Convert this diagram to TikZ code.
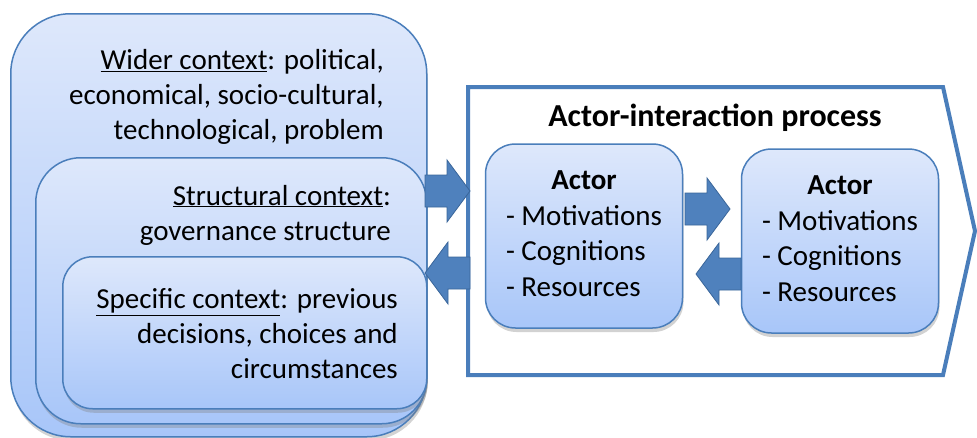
\documentclass[tikz,border=0pt]{standalone}
\usepackage{fontspec}
\setmainfont{Carlito}
\usetikzlibrary{shadows}
\definecolor{boxtop}{HTML}{DEE8FB}
\definecolor{boxbot}{HTML}{A8C6F9}
\definecolor{edgeblue}{HTML}{4A7EBB}
\definecolor{arrowblue}{HTML}{4F81BD}
\definecolor{arrowedge}{HTML}{3A669A}
\tikzset{
  shadebox/.style = {draw=edgeblue, line width=1.5pt, top color=boxtop, bottom color=boxbot,
    drop shadow={opacity=0.35, shadow xshift=1pt, shadow yshift=-4pt}, anchor=north west, inner sep=0pt},
  ctxtext/.style = {align=right, inner sep=0pt, anchor=east, font=\fontsize{29}{35}\selectfont},
  actorbox/.style = {shadebox, anchor=center, rounded corners=30pt, minimum width=197pt, minimum height=184pt,
    font=\fontsize{29}{35.5}\selectfont},
  blockarrow/.style = {fill=arrowblue, draw=arrowedge, line width=0.8pt, line join=miter},
  rblock/.pic = {\draw[blockarrow] (0,-16) -- (22,-16) -- (22,-31) -- (45,0) -- (22,31) -- (22,16) -- (0,16) -- cycle;},
  lblock/.pic = {\draw[blockarrow] (0,-16) -- (-22,-16) -- (-22,-31) -- (-45,0) -- (-22,31) -- (-22,16) -- (0,16) -- cycle;}
}
\begin{document}
\begin{tikzpicture}[x=1pt,y=-1pt]
\useasboundingbox (0,0) rectangle (977,437);

% context boxes
\node[shadebox, rounded corners=60pt, minimum width=416pt, minimum height=423pt] (wider) at (10,13) {};
\node[ctxtext] (widertext) at (384,97) {\underline{Wider context}: political,\\economical, socio-cultural,\\technological, problem};

\node[shadebox, rounded corners=45pt, minimum width=391pt, minimum height=266pt] (struct) at (35,157) {};
\node[ctxtext] (structtext) at (391,215) {\underline{Structural context}:\\governance structure};

\node[shadebox, rounded corners=30pt, minimum width=364pt, minimum height=152pt] (specific) at (62,256) {};
\node[ctxtext] (specifictext) at (398,334) {\underline{Specific context}: previous\\decisions, choices and\\circumstances};

% process chevron
\draw[edgeblue, line width=4pt, fill=white, line join=miter] (468,87) coordinate (procnw) -- (943,87) -- (975,231) coordinate (proctip) -- (943,375) -- (468,375) coordinate (procsw) -- cycle;
\node[font=\fontsize{32}{38}\selectfont\bfseries] (title) at (715,118) {Actor-interaction process};

\node[actorbox] (actora) at (584,236) {\begin{tabular}{@{}l@{}}\multicolumn{1}{c}{\textbf{Actor}}\\- Motivations\\- Cognitions\\- Resources\end{tabular}};
\node[actorbox] (actorb) at (840,241) {\begin{tabular}{@{}l@{}}\multicolumn{1}{c}{\textbf{Actor}}\\- Motivations\\- Cognitions\\- Resources\end{tabular}};

% block arrows
\pic at (425,191) {rblock};
\pic at (470,273) {lblock};
\pic at (685,209) {rblock};
\pic at (741,274) {lblock};
\end{tikzpicture}
\end{document}
